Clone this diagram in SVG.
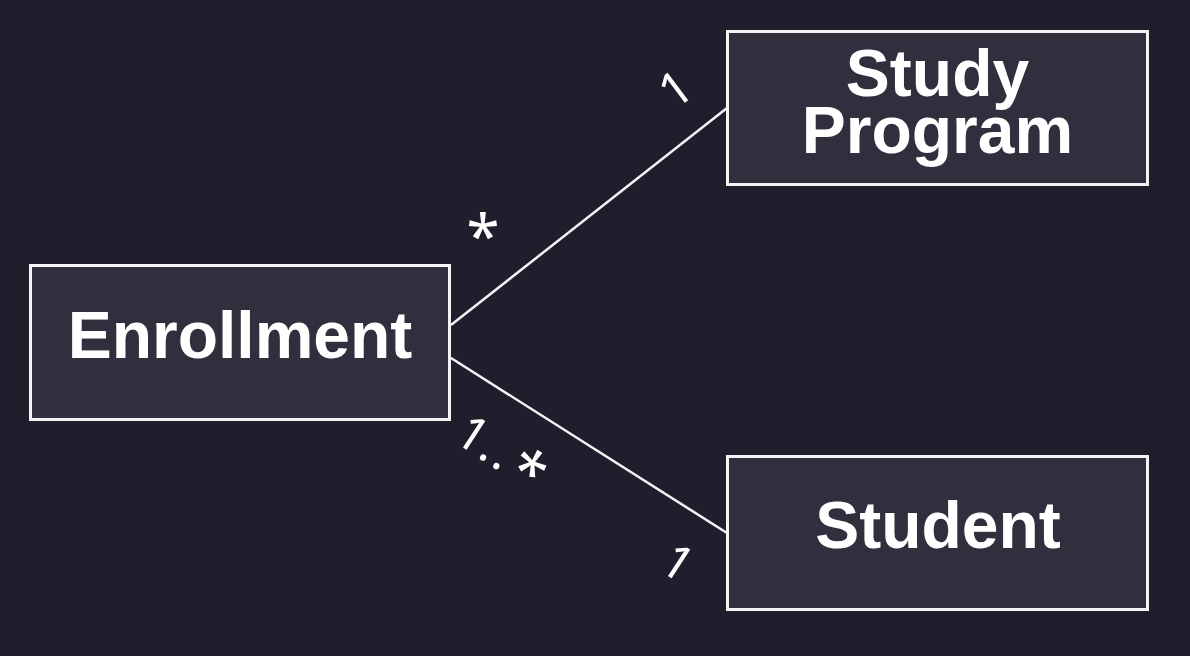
<svg xmlns="http://www.w3.org/2000/svg" width="1190" height="656" viewBox="0 0 1190 656">
<style>
.bg{fill:#201e2d}
.box{fill:#312f3e;stroke:#f4f4f4;stroke-width:3}
.name{font-family:"Liberation Sans",Arial,sans-serif;font-weight:bold;font-size:66px;fill:#ffffff;text-anchor:middle}
.edge{stroke:#f4f4f4;stroke-width:2.5;fill:none}
.mult{font-family:"Noto Sans","Open Sans",sans-serif;font-size:48px;fill:#ffffff}
.star{font-size:60px}
</style>
<rect class="bg" x="0" y="0" width="1190" height="656"/>
<g id="connectors">
<line class="edge" x1="451" y1="325" x2="727" y2="108"/>
<line class="edge" x1="451" y1="358" x2="727" y2="533"/>
<text class="mult" transform="translate(674.5,110.4) rotate(-37)">1</text>
<text class="mult star" x="483" y="258" text-anchor="middle">*</text>
<text class="mult" transform="translate(452.2,440.6) rotate(33)"><tspan x="0">1</tspan><tspan x="28.7">.</tspan><tspan x="44.5">.</tspan><tspan class="star" x="63" dy="7">*</tspan></text>
<text class="mult" transform="translate(657.2,568.9) rotate(33)">1</text>
</g>
<g id="enrollment">
<rect class="box" x="30.5" y="265.5" width="419" height="154"/>
<text class="name" x="240" y="358">Enrollment</text>
</g>
<g id="study-program">
<rect class="box" x="727.5" y="31.5" width="420" height="153"/>
<text class="name"><tspan x="937.5" y="96">Study</tspan><tspan x="937.5" y="153">Program</tspan></text>
</g>
<g id="student">
<rect class="box" x="727.5" y="456.5" width="420" height="153"/>
<text class="name" x="938" y="548">Student</text>
</g>
</svg>
